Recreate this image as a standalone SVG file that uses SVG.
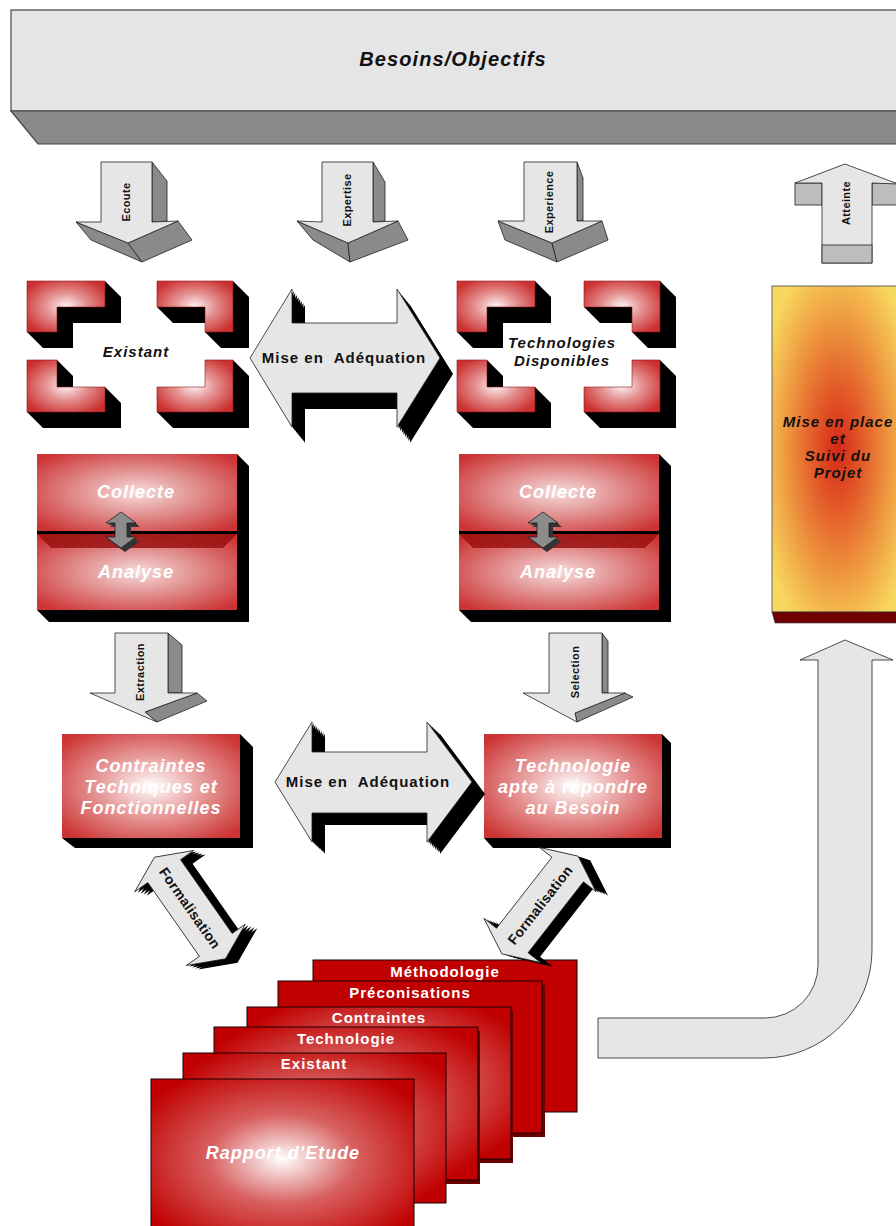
<svg xmlns="http://www.w3.org/2000/svg" width="896" height="1226" viewBox="0 0 896 1226">
<style>
text{font-family:"Liberation Sans",Arial,Helvetica,sans-serif;}
.bi{font-weight:bold;font-style:italic;}
.b{font-weight:bold;}
.lbl{font-size:11px;font-weight:bold;fill:#111;letter-spacing:0.4px;}
.wt{fill:#fff;}
.arrL{fill:#e6e6e6;stroke:#222;stroke-width:0.8;stroke-linejoin:round;}
.arrD{fill:#8a8a8a;stroke:#222;stroke-width:0.8;stroke-linejoin:round;}
.arrM{fill:#bdbdbd;stroke:#222;stroke-width:0.8;}
.blk{fill:#000;}
.red{fill:url(#pillow);stroke:#8a1a1a;stroke-width:0.6;}
.box{fill:url(#boxG);}
.boxw{fill:url(#boxW);}
.card{fill:url(#cardG);stroke:#1a0000;stroke-width:1;}
.cardsh{fill:#6a0000;}
.ct{font-size:15px;font-weight:bold;fill:#fff;letter-spacing:1px;}
.bt{font-size:18px;font-weight:bold;font-style:italic;fill:#fff;letter-spacing:1px;}
.ft{font-size:15px;font-weight:bold;font-style:italic;fill:#111;letter-spacing:1px;}
</style>
<defs>
<radialGradient id="pillow" cx="0.5" cy="0.5" r="0.6">
<stop offset="0" stop-color="#fdf2f2"/>
<stop offset="0.45" stop-color="#e49090"/>
<stop offset="1" stop-color="#cc3030"/>
</radialGradient>
<radialGradient id="boxG" cx="0.5" cy="0.5" r="0.65">
<stop offset="0" stop-color="#f6dcdc"/>
<stop offset="0.5" stop-color="#e08888"/>
<stop offset="1" stop-color="#cc3333"/>
</radialGradient>
<radialGradient id="boxW" cx="0.5" cy="0.5" r="0.65">
<stop offset="0" stop-color="#ffffff"/>
<stop offset="0.4" stop-color="#eaa4a4"/>
<stop offset="1" stop-color="#cc3333"/>
</radialGradient>
<radialGradient id="cardG" cx="0.5" cy="0.5" r="0.62">
<stop offset="0" stop-color="#ffffff"/>
<stop offset="0.45" stop-color="#d86060"/>
<stop offset="1" stop-color="#c00000"/>
</radialGradient>
<radialGradient id="yelG" cx="0.5" cy="0.5" r="0.62">
<stop offset="0" stop-color="#d42818"/>
<stop offset="0.3" stop-color="#e35a28"/>
<stop offset="0.7" stop-color="#f0a444"/>
<stop offset="1" stop-color="#f8d860"/>
</radialGradient>
<path id="adq1" d="M250,358 L292,289 L292,323 L397,323 L397,289 L440,358 L397,427 L397,393 L292,393 L292,427 Z"/>
<path id="adq2" d="M275,782 L312,722 L312,752 L427,752 L427,722 L472,782 L427,842 L427,813 L312,813 L312,842 Z"/>
<path id="frm" d="M-62,0 L-45,-36 L-45,-20 L45,-20 L45,-36 L62,0 L45,36 L45,20 L-45,20 L-45,36 Z"/>
<path id="sm" d="M0,-18 L15,-7 L6,-7 L6,7 L15,7 L0,18 L-15,7 L-6,7 L-6,-7 L-15,-7 Z"/>
</defs>

<g id="besoins">
<rect x="11" y="10" width="895" height="101" fill="#e5e5e5" stroke="#444" stroke-width="1.2"/>
<polygon points="11,111 906,111 906,144 38,144" fill="#8a8a8a" stroke="#444" stroke-width="1.2"/>
<text x="453" y="66" class="bi" font-size="20" letter-spacing="1.1" text-anchor="middle" fill="#111">Besoins/Objectifs</text>
</g>

<g id="existant">
<polygon class="blk" points="27,281 105,281 121,297 121,323 73,323 73,348 43,348 27,332"/>
<polygon class="red" points="27,281 105,281 105,307 57,307 57,332 27,332"/>
<polygon class="blk" points="157,281 233,281 249,297 249,348 221,348 205,332 205,323 173,323 157,307"/>
<polygon class="red" points="157,281 233,281 233,332 205,332 205,307 157,307"/>
<polygon class="blk" points="27,360 57,360 73,376 73,387 105,387 121,403 121,428 43,428 27,412"/>
<polygon class="red" points="27,360 57,360 57,387 105,387 105,412 27,412"/>
<polygon class="blk" points="205,360 233,360 249,376 249,428 173,428 157,412 157,387 205,387"/>
<polygon class="red" points="205,360 233,360 233,412 157,412 157,387 205,387"/>
<text x="136" y="357" class="ft" text-anchor="middle">Existant</text>
</g>

<g id="technologies-disponibles">
<g transform="translate(430,0)">
<polygon class="blk" points="27,281 105,281 121,297 121,323 73,323 73,348 43,348 27,332"/>
<polygon class="red" points="27,281 105,281 105,307 57,307 57,332 27,332"/>
<polygon class="blk" points="27,360 57,360 73,376 73,387 105,387 121,403 121,428 43,428 27,412"/>
<polygon class="red" points="27,360 57,360 57,387 105,387 105,412 27,412"/>
</g>
<g transform="translate(427,0)">
<polygon class="blk" points="157,281 233,281 249,297 249,348 221,348 205,332 205,323 173,323 157,307"/>
<polygon class="red" points="157,281 233,281 233,332 205,332 205,307 157,307"/>
<polygon class="blk" points="205,360 233,360 249,376 249,428 173,428 157,412 157,387 205,387"/>
<polygon class="red" points="205,360 233,360 233,412 157,412 157,387 205,387"/>
</g>
<text x="562" y="348" class="ft" text-anchor="middle">Technologies</text>
<text x="562" y="366" class="ft" text-anchor="middle">Disponibles</text>
</g>

<g id="collecte-analyse-left">
<polygon class="blk" points="37,454 237,454 249,466 249,622 49,622 37,610"/>
<rect x="37" y="454" width="200" height="77" class="box"/>
<rect x="37" y="534" width="200" height="76" class="box"/>
<rect x="37" y="531" width="212" height="3" fill="#000"/>
<polygon points="37,534 237,534 223,548 51,548" fill="#9a1010" opacity="0.85"/>
<text x="136" y="498" class="bt" text-anchor="middle">Collecte</text>
<text x="136" y="578" class="bt" text-anchor="middle">Analyse</text>
<g transform="translate(121,530)">
<use href="#sm" x="2" y="2" fill="#333"/>
<use href="#sm" x="4" y="4" fill="#333"/>
<use href="#sm" fill="#8c8c8c" stroke="#222" stroke-width="0.8"/>
</g>
</g>

<g id="collecte-analyse-right">
<polygon class="blk" points="459,454 659,454 671,466 671,622 471,622 459,610"/>
<rect x="459" y="454" width="200" height="77" class="box"/>
<rect x="459" y="534" width="200" height="76" class="box"/>
<rect x="459" y="531" width="212" height="3" fill="#000"/>
<polygon points="459,534 659,534 645,548 473,548" fill="#9a1010" opacity="0.85"/>
<text x="558" y="498" class="bt" text-anchor="middle">Collecte</text>
<text x="558" y="578" class="bt" text-anchor="middle">Analyse</text>
<g transform="translate(543,530)">
<use href="#sm" x="2" y="2" fill="#333"/>
<use href="#sm" x="4" y="4" fill="#333"/>
<use href="#sm" fill="#8c8c8c" stroke="#222" stroke-width="0.8"/>
</g>
</g>

<g id="contraintes">
<polygon class="blk" points="62,734 240,734 253,747 253,848 75,848 62,838"/>
<rect x="62" y="734" width="178" height="104" class="boxw"/>
<text x="151" y="772" class="bt" text-anchor="middle">Contraintes</text>
<text x="151" y="793" class="bt" text-anchor="middle">Techniques et</text>
<text x="151" y="814" class="bt" text-anchor="middle">Fonctionnelles</text>
</g>

<g id="technologie-apte">
<polygon class="blk" points="484,734 662,734 671,743 671,848 493,848 484,838"/>
<rect x="484" y="734" width="178" height="104" class="boxw"/>
<text x="573" y="772" class="bt" text-anchor="middle">Technologie</text>
<text x="573" y="793" class="bt" text-anchor="middle">apte à répondre</text>
<text x="573" y="814" class="bt" text-anchor="middle">au Besoin</text>
</g>

<g id="mise-en-place">
<rect x="772" y="286" width="132" height="326" fill="url(#yelG)" stroke="#666" stroke-width="1"/>
<polygon points="772,612 904,612 904,623 775,623" fill="#6e0000" stroke="#333" stroke-width="0.6"/>
<text x="838" y="427" class="ft" text-anchor="middle">Mise en place</text>
<text x="838" y="444" class="ft" text-anchor="middle">et</text>
<text x="838" y="461" class="ft" text-anchor="middle">Suivi du</text>
<text x="838" y="478" class="ft" text-anchor="middle">Projet</text>
</g>

<g id="rapport">
<g id="card-methodologie">
<rect x="313" y="960" width="264" height="152" fill="#c00000" stroke="#1a0000" stroke-width="1"/>
<text x="445" y="977" class="ct" text-anchor="middle">Méthodologie</text>
</g>
<g id="card-preconisations">
<rect x="281" y="985" width="264" height="152" class="cardsh"/>
<rect x="278" y="981" width="264" height="152" fill="#c00000" stroke="#1a0000" stroke-width="1"/>
<text x="410" y="998" class="ct" text-anchor="middle">Préconisations</text>
</g>
<g id="card-contraintes">
<rect x="249" y="1011" width="264" height="152" class="cardsh"/>
<rect x="247" y="1007" width="264" height="152" class="card"/>
<text x="379" y="1023" class="ct" text-anchor="middle">Contraintes</text>
</g>
<g id="card-technologie">
<rect x="216" y="1031" width="264" height="153" class="cardsh"/>
<rect x="214" y="1027" width="264" height="153" class="card"/>
<text x="346" y="1044" class="ct" text-anchor="middle">Technologie</text>
</g>
<g id="card-existant">
<rect x="183" y="1053" width="263" height="150" class="card"/>
<text x="314" y="1069" class="ct" text-anchor="middle">Existant</text>
</g>
<g id="card-rapport">
<rect x="151" y="1079" width="263" height="160" class="card"/>
<text x="283" y="1159" class="bt" font-size="19" text-anchor="middle">Rapport d'Etude</text>
</g>
</g>

<g id="connectors">
<g id="arrow-ecoute">
<polygon class="arrD" points="152,162 167,181 167,221 152,222"/>
<polygon class="arrD" points="76,222 128,243 142,262 91,240"/>
<polygon class="arrD" points="128,243 178,221 192,240 142,262"/>
<polygon class="arrL" points="101,162 152,162 152,222 178,221 128,243 76,222 101,222"/>
<text class="lbl" transform="translate(126,202) rotate(-90)" text-anchor="middle" y="4">Ecoute</text>
</g>
<g id="arrow-expertise">
<polygon class="arrD" points="373,162 385,182 385,221 373,222"/>
<polygon class="arrD" points="297,221 348,243 350,262 313,240"/>
<polygon class="arrD" points="348,243 398,221 408,240 350,262"/>
<polygon class="arrL" points="322,162 373,162 373,222 398,221 348,243 297,221 322,222"/>
<text class="lbl" transform="translate(347,200) rotate(-90)" text-anchor="middle" y="4">Expertise</text>
</g>
<g id="arrow-experience">
<polygon class="arrD" points="577,162 583,178 583,221 577,221"/>
<polygon class="arrD" points="498,221 552,243 557,262 505,240"/>
<polygon class="arrD" points="552,243 602,221 608,240 557,262"/>
<polygon class="arrL" points="524,162 577,162 577,221 602,221 552,243 498,221 524,221"/>
<text class="lbl" transform="translate(549,202) rotate(-90)" text-anchor="middle" y="4">Experience</text>
</g>
<g id="arrow-atteinte">
<rect class="arrM" x="795" y="183" width="27" height="22"/>
<rect class="arrM" x="872" y="183" width="26" height="22"/>
<path class="arrL" d="M845,164 L898,184 L872,183 L872,263 L822,263 L822,183 L795,183 Z"/>
<rect class="arrM" x="822" y="245" width="50" height="18"/>
<text class="lbl" transform="translate(846,203) rotate(-90)" text-anchor="middle" y="4">Atteinte</text>
</g>
<g id="arrow-extraction">
<polygon class="arrD" points="168,633 182,645 182,693 168,693"/>
<polygon class="arrD" points="145,712 197,693 207,701 157,722"/>
<polygon class="arrL" points="115,633 168,633 168,693 197,693 145,712 157,722 90,693 115,693"/>
<text class="lbl" transform="translate(140,672) rotate(-90)" text-anchor="middle" y="4">Extraction</text>
</g>
<g id="arrow-selection">
<polygon class="arrD" points="602,633 608,641 608,693 602,693"/>
<polygon class="arrD" points="575,713 625,693 633,697 577,722"/>
<polygon class="arrL" points="549,633 602,633 602,693 625,693 575,713 577,722 523,693 549,693"/>
<text class="lbl" transform="translate(575,672) rotate(-90)" text-anchor="middle" y="4">Selection</text>
</g>
<g id="adequation-1">
<g fill="#000">
<use href="#adq1" x="1.6" y="2"/><use href="#adq1" x="3.2" y="4"/><use href="#adq1" x="4.9" y="6"/><use href="#adq1" x="6.5" y="8"/>
<use href="#adq1" x="8.1" y="10"/><use href="#adq1" x="9.8" y="12"/><use href="#adq1" x="11.4" y="14"/><use href="#adq1" x="13" y="16"/>
</g>
<use href="#adq1" class="arrL"/>
<text x="344" y="363" class="b" font-size="15" letter-spacing="1" text-anchor="middle" fill="#111" xml:space="preserve" style="white-space:pre">Mise en  Adéquation</text>
</g>
<g id="adequation-2">
<g fill="#000">
<use href="#adq2" x="1.6" y="1.5"/><use href="#adq2" x="3.3" y="3"/><use href="#adq2" x="4.9" y="4.5"/><use href="#adq2" x="6.5" y="6"/>
<use href="#adq2" x="8.1" y="7.5"/><use href="#adq2" x="9.8" y="9"/><use href="#adq2" x="11.4" y="10.5"/><use href="#adq2" x="13" y="12"/>
</g>
<use href="#adq2" class="arrL"/>
<text x="368" y="787" class="b" font-size="15" letter-spacing="1" text-anchor="middle" fill="#111" xml:space="preserve" style="white-space:pre">Mise en  Adéquation</text>
</g>
<g id="formalisation-left">
<g fill="#000">
<use href="#frm" transform="translate(193,909) rotate(55)"/><use href="#frm" transform="translate(196,910) rotate(55)"/>
<use href="#frm" transform="translate(199,911) rotate(55)"/><use href="#frm" transform="translate(202,912) rotate(55)"/>
</g>
<use href="#frm" class="arrL" transform="translate(190,908) rotate(55)"/>
<text class="b" font-size="14" letter-spacing="0.3" fill="#111" text-anchor="middle" y="5" transform="translate(190,908) rotate(55)">Formalisation</text>
</g>
<g id="formalisation-right">
<g fill="#000">
<use href="#frm" transform="translate(543,906) rotate(-52)"/><use href="#frm" transform="translate(546,907) rotate(-52)"/>
<use href="#frm" transform="translate(549,908) rotate(-52)"/><use href="#frm" transform="translate(552,909) rotate(-52)"/>
</g>
<use href="#frm" class="arrL" transform="translate(540,905) rotate(-52)"/>
<text class="b" font-size="14" letter-spacing="0.3" fill="#111" text-anchor="middle" y="5" transform="translate(540,905) rotate(-52)">Formalisation</text>
</g>
<g id="arrow-retour">
<path class="arrL" d="M598,1018 L765,1018 A53,53 0 0 0 818,965 L818,660 L800,660 L845,640 L893,660 L872,660 L872,950 A108,108 0 0 1 764,1058 L598,1058 Z"/>
</g>
</g>
</svg>
